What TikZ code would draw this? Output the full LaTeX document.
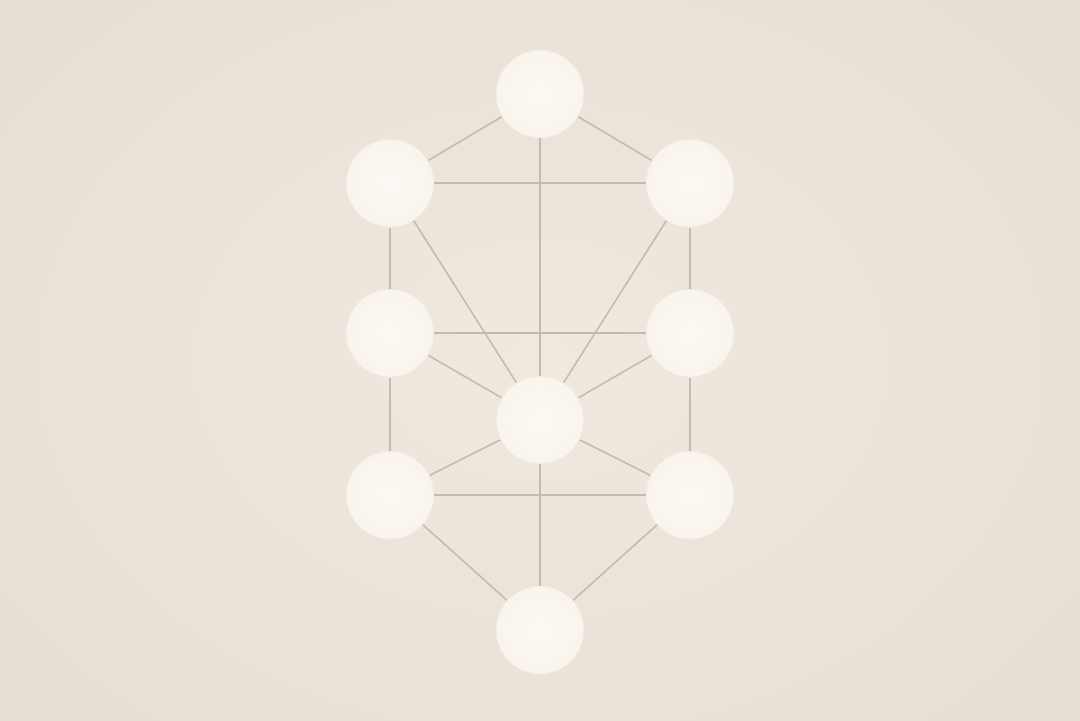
\documentclass[tikz,border=0pt]{standalone}
\definecolor{paper}{RGB}{240,233,224}
\definecolor{paperedge}{RGB}{231,222,211}
\definecolor{orbfill}{RGB}{252,249,244}
\definecolor{orbrim}{RGB}{249,244,236}
\definecolor{orbline}{RGB}{240,233,222}
\definecolor{path}{RGB}{196,186,174}
\tikzset{
  orb/.style={circle, minimum size=2.2cm, inner sep=0pt, draw=orbline, line width=0.7pt,
    inner color=orbfill, outer color=orbrim},
  link/.style={draw=path, line width=1.1pt}
}
\begin{document}
\begin{tikzpicture}
\useasboundingbox (0,0) rectangle (27,18) ;
\begin{scope}
\clip (0,0) rectangle (27,18) ;
\shade [inner color=paper, outer color=paperedge] (-4,-4) rectangle (31,22) ;
\end{scope}
\node [orb] (crown) at (13.5,15.65) {} ;
\node [orb] (wisdom) at (17.25,13.42) {} ;
\node [orb] (insight) at (9.75,13.42) {} ;
\node [orb] (mercy) at (17.25,9.67) {} ;
\node [orb] (might) at (9.75,9.67) {} ;
\node [orb] (heart) at (13.5,7.5) {} ;
\node [orb] (victory) at (17.25,5.62) {} ;
\node [orb] (glory) at (9.75,5.62) {} ;
\node [orb] (root) at (13.5,2.25) {} ;
\draw [link] (crown) -- (insight) ;
\draw [link] (crown) -- (wisdom) ;
\draw [link] (crown) -- (heart) ;
\draw [link] (insight) -- (wisdom) ;
\draw [link] (insight) -- (might) ;
\draw [link] (wisdom) -- (mercy) ;
\draw [link] (insight) -- (heart) ;
\draw [link] (wisdom) -- (heart) ;
\draw [link] (might) -- (mercy) ;
\draw [link] (might) -- (heart) ;
\draw [link] (mercy) -- (heart) ;
\draw [link] (might) -- (glory) ;
\draw [link] (mercy) -- (victory) ;
\draw [link] (heart) -- (glory) ;
\draw [link] (heart) -- (victory) ;
\draw [link] (glory) -- (victory) ;
\draw [link] (glory) -- (root) ;
\draw [link] (victory) -- (root) ;
\draw [link] (heart) -- (root) ;
\end{tikzpicture}
\end{document}
